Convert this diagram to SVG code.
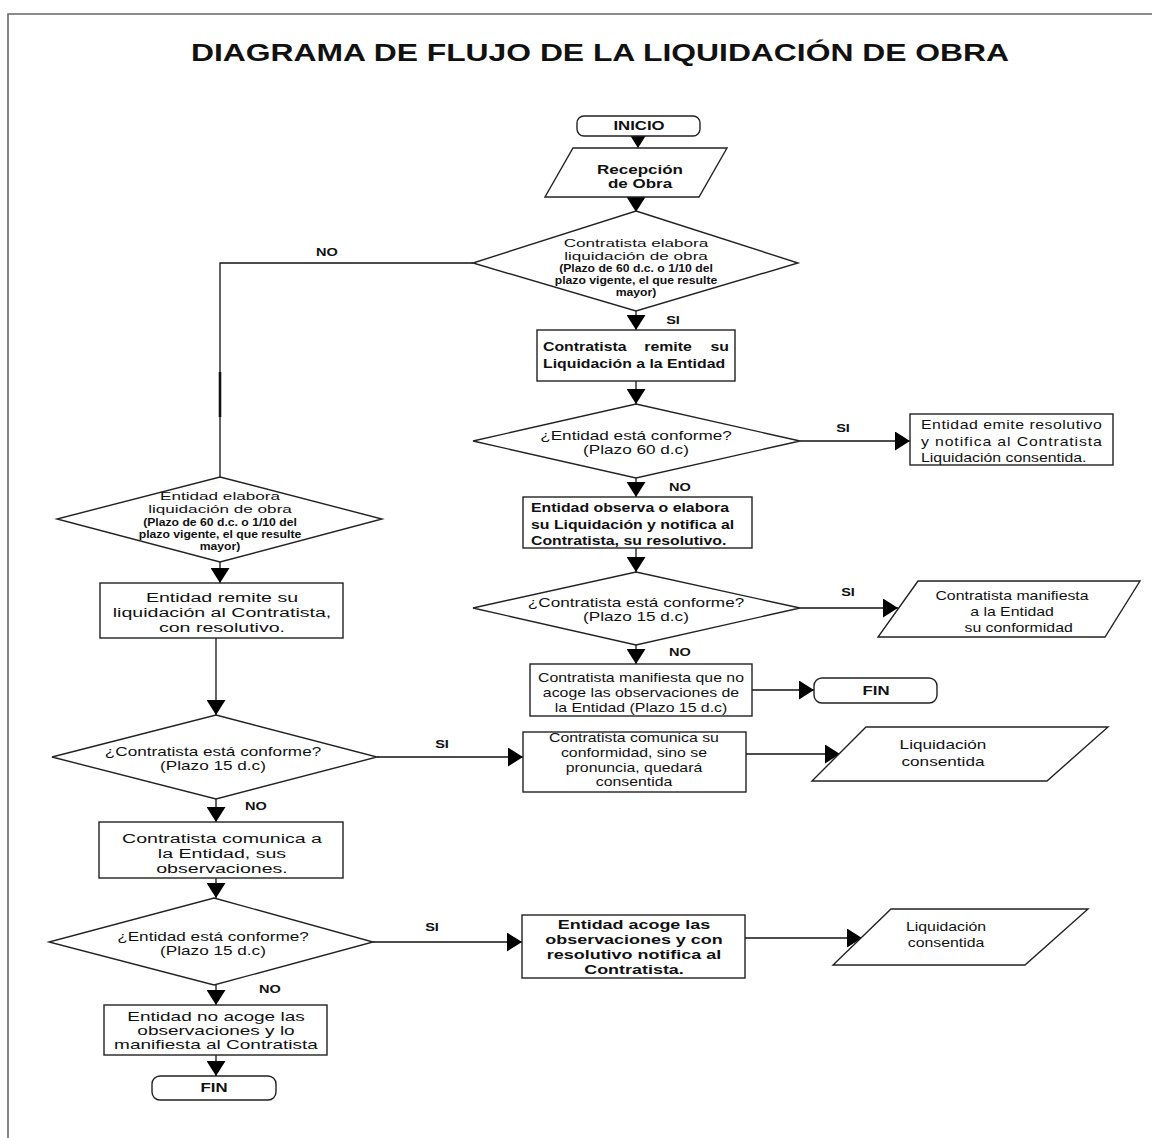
<svg xmlns="http://www.w3.org/2000/svg" width="1152" height="1138" viewBox="0 0 1152 1138">
<style>
text{font-family:"Liberation Sans",Arial,sans-serif;fill:#111}
.m{text-anchor:middle}
.st{text-anchor:start}
.b{font-weight:bold}
.f10{font-size:10px}
.f11{font-size:11px}
.f115{font-size:11.5px}
.f12{font-size:12px}
.f13{font-size:13px}
.f14{font-size:13.5px}
.sh{fill:#fff;stroke:#222;stroke-width:1.4}
.cn{fill:none;stroke:#111;stroke-width:1.3}
.fr{fill:none;stroke:#666;stroke-width:1.6}
</style>
<defs>
<marker id="ah" markerUnits="userSpaceOnUse" markerWidth="15" markerHeight="19" viewBox="0 0 15 19" refX="15" refY="9.5" orient="auto"><path d="M0,0 L15,9.5 L0,19 z" fill="#000"/></marker>
</defs>
<rect width="1152" height="1138" fill="#fff"/>
<path class="fr" d="M1152,14 H8 V1138"/>
<text id="title" class="m b" x="600" y="61" font-size="24" textLength="818" lengthAdjust="spacingAndGlyphs">DIAGRAMA DE FLUJO DE LA LIQUIDACIÓN DE OBRA</text>

<g id="connectors">
<line class="cn" x1="638" y1="136" x2="638" y2="148" marker-end="url(#ah)"/>
<line class="cn" x1="636" y1="197" x2="636" y2="212" marker-end="url(#ah)"/>
<polyline class="cn" points="473,263 220,263 220,477"/>
<line x1="220" y1="372" x2="220" y2="417" stroke="#111" stroke-width="2.6"/>
<line class="cn" x1="636" y1="311" x2="636" y2="330" marker-end="url(#ah)"/>
<line class="cn" x1="636" y1="381" x2="636" y2="404" marker-end="url(#ah)"/>
<line class="cn" x1="800" y1="441" x2="910" y2="441" marker-end="url(#ah)"/>
<line class="cn" x1="636" y1="478" x2="636" y2="497" marker-end="url(#ah)"/>
<line class="cn" x1="636" y1="548" x2="636" y2="572" marker-end="url(#ah)"/>
<line class="cn" x1="800" y1="608" x2="898" y2="608" marker-end="url(#ah)"/>
<line class="cn" x1="636" y1="645" x2="636" y2="664" marker-end="url(#ah)"/>
<line class="cn" x1="752" y1="690" x2="814" y2="690" marker-end="url(#ah)"/>
<line class="cn" x1="220" y1="562" x2="220" y2="583" marker-end="url(#ah)"/>
<line class="cn" x1="216" y1="638" x2="216" y2="715" marker-end="url(#ah)"/>
<line class="cn" x1="377" y1="757" x2="523" y2="757" marker-end="url(#ah)"/>
<line class="cn" x1="746" y1="754" x2="840" y2="754" marker-end="url(#ah)"/>
<line class="cn" x1="216" y1="799" x2="216" y2="822" marker-end="url(#ah)"/>
<line class="cn" x1="216" y1="878" x2="216" y2="898" marker-end="url(#ah)"/>
<line class="cn" x1="373" y1="942" x2="522" y2="942" marker-end="url(#ah)"/>
<line class="cn" x1="745" y1="938" x2="862" y2="938" marker-end="url(#ah)"/>
<line class="cn" x1="216" y1="985" x2="216" y2="1005" marker-end="url(#ah)"/>
<line class="cn" x1="216" y1="1055" x2="216" y2="1076" marker-end="url(#ah)"/>
<text class="m b f11" transform="matrix(1.32 0 0 1 327 0)" x="0" y="256">NO</text>
<text class="m b f11" transform="matrix(1.32 0 0 1 673 0)" x="0" y="324">SI</text>
<text class="m b f11" transform="matrix(1.32 0 0 1 843 0)" x="0" y="432">SI</text>
<text class="m b f11" transform="matrix(1.32 0 0 1 680 0)" x="0" y="491">NO</text>
<text class="m b f11" transform="matrix(1.32 0 0 1 848 0)" x="0" y="596">SI</text>
<text class="m b f11" transform="matrix(1.32 0 0 1 680 0)" x="0" y="656">NO</text>
<text class="m b f11" transform="matrix(1.32 0 0 1 442 0)" x="0" y="748">SI</text>
<text class="m b f11" transform="matrix(1.32 0 0 1 256 0)" x="0" y="810">NO</text>
<text class="m b f11" transform="matrix(1.32 0 0 1 432 0)" x="0" y="931">SI</text>
<text class="m b f11" transform="matrix(1.32 0 0 1 270 0)" x="0" y="993">NO</text>
</g>

<g id="inicio">
<rect class="sh" x="577" y="116" width="123" height="20" rx="7"/>
<text class="m b f12" transform="matrix(1.4 0 0 1 639 0)" x="0" y="130.5">INICIO</text>
</g>
<g id="recepcion">
<polygon class="sh" points="573,148 727,148 699,197 545,197"/>
<text class="m b" font-size="12.5" transform="matrix(1.36 0 0 1 640 0)"><tspan x="0" y="174">Recepción</tspan><tspan x="0" y="188">de Obra</tspan></text>
</g>
<g id="d-contratista-elabora">
<polygon class="sh" points="636,211 798,263 636,311 473,263"/>
<text class="m f115" transform="matrix(1.49 0 0 1 636 0)"><tspan x="0" y="247">Contratista elabora</tspan><tspan x="0" y="260">liquidación de obra</tspan></text>
<text class="m b f10" transform="matrix(1.22 0 0 1 636 0)"><tspan x="0" y="272.5">(Plazo de 60 d.c. o 1/10 del</tspan><tspan x="0" y="284.5">plazo vigente, el que resulte</tspan><tspan x="0" y="296.5">mayor)</tspan></text>
</g>
<g id="contratista-remite">
<rect class="sh" x="537" y="330" width="198" height="51"/>
<text class="st b f12" transform="matrix(1.32 0 0 1 543 0)" x="0" y="351">Contratista</text>
<text class="m b f12" transform="matrix(1.32 0 0 1 668 0)" x="0" y="351">remite</text>
<text class="b f12" text-anchor="end" transform="matrix(1.32 0 0 1 729 0)" x="0" y="351">su</text>
<text class="st b f12" transform="matrix(1.32 0 0 1 543 0)" x="0" y="368">Liquidación a la Entidad</text>
</g>
<g id="d-entidad-conforme-60">
<polygon class="sh" points="636,404 800,441 636,478 473,441"/>
<text class="m f13" transform="matrix(1.32 0 0 1 636 0)"><tspan x="0" y="440">¿Entidad está conforme?</tspan><tspan x="0" y="454">(Plazo 60 d.c)</tspan></text>
</g>
<g id="entidad-emite">
<rect class="sh" x="910" y="414" width="203" height="51"/>
<text class="st f12" transform="matrix(1.32 0 0 1 921 0)"><tspan x="0" y="429" textLength="137" lengthAdjust="spacing">Entidad emite resolutivo</tspan><tspan x="0" y="446" textLength="137" lengthAdjust="spacing">y notifica al Contratista</tspan><tspan x="0" y="462">Liquidación consentida.</tspan></text>
</g>
<g id="entidad-observa">
<rect class="sh" x="523" y="497" width="229" height="51"/>
<text class="st b f12" transform="matrix(1.32 0 0 1 531 0)"><tspan x="0" y="512">Entidad observa o elabora</tspan><tspan x="0" y="529">su Liquidación y notifica al</tspan><tspan x="0" y="545">Contratista, su resolutivo.</tspan></text>
</g>
<g id="d-contratista-conforme-1">
<polygon class="sh" points="636,572 800,608 636,645 473,608"/>
<text class="m f13" transform="matrix(1.32 0 0 1 636 0)"><tspan x="0" y="607">¿Contratista está conforme?</tspan><tspan x="0" y="621">(Plazo 15 d.c)</tspan></text>
</g>
<g id="contratista-manifiesta-conformidad">
<polygon class="sh" points="918,581 1140,581 1105,637 878,637"/>
<text class="m f12" transform="matrix(1.32 0 0 1 1012 0)"><tspan x="0" y="600">Contratista manifiesta</tspan><tspan x="0" y="616">a la Entidad</tspan><tspan x="5" y="632">su conformidad</tspan></text>
</g>
<g id="contratista-no-acoge">
<rect class="sh" x="530" y="664" width="222" height="52"/>
<text class="m f12" transform="matrix(1.32 0 0 1 641 0)"><tspan x="0" y="682">Contratista manifiesta que no</tspan><tspan x="0" y="697">acoge las observaciones de</tspan><tspan x="0" y="712">la Entidad (Plazo 15 d.c)</tspan></text>
</g>
<g id="fin-1">
<rect class="sh" x="814" y="678" width="123" height="25" rx="8"/>
<text class="m b f12" transform="matrix(1.4 0 0 1 876 0)" x="0" y="695">FIN</text>
</g>

<g id="d-entidad-elabora">
<polygon class="sh" points="220,477 382,519 220,562 57,519"/>
<text class="m f115" transform="matrix(1.49 0 0 1 220 0)"><tspan x="0" y="500.5">Entidad elabora</tspan><tspan x="0" y="513.5">liquidación de obra</tspan></text>
<text class="m b f10" transform="matrix(1.22 0 0 1 220 0)"><tspan x="0" y="526">(Plazo de 60 d.c. o 1/10 del</tspan><tspan x="0" y="538">plazo vigente, el que resulte</tspan><tspan x="0" y="550">mayor)</tspan></text>
</g>
<g id="entidad-remite">
<rect class="sh" x="100" y="583" width="243" height="55"/>
<text class="m f14" transform="matrix(1.45 0 0 1 222 0)"><tspan x="0" y="602">Entidad remite su</tspan><tspan x="0" y="617">liquidación al Contratista,</tspan><tspan x="0" y="632">con resolutivo.</tspan></text>
</g>
<g id="d-contratista-conforme-2">
<polygon class="sh" points="216,715 377,757 216,799 52,757"/>
<text class="m f13" transform="matrix(1.32 0 0 1 213 0)"><tspan x="0" y="756">¿Contratista está conforme?</tspan><tspan x="0" y="770">(Plazo 15 d.c)</tspan></text>
</g>
<g id="contratista-comunica-conformidad">
<rect class="sh" x="523" y="732" width="223" height="60"/>
<text class="m f12" transform="matrix(1.32 0 0 1 634 0)"><tspan x="0" y="742">Contratista comunica su</tspan><tspan x="0" y="757">conformidad, sino se</tspan><tspan x="0" y="772">pronuncia, quedará</tspan><tspan x="0" y="786">consentida</tspan></text>
</g>
<g id="liquidacion-consentida-1">
<polygon class="sh" points="866,727 1108,727 1047,781 812,781"/>
<text class="m f13" transform="matrix(1.32 0 0 1 943 0)"><tspan x="0" y="749">Liquidación</tspan><tspan x="0" y="766">consentida</tspan></text>
</g>
<g id="contratista-comunica-observaciones">
<rect class="sh" x="99" y="822" width="244" height="56"/>
<text class="m f14" transform="matrix(1.45 0 0 1 222 0)"><tspan x="0" y="843">Contratista comunica a</tspan><tspan x="0" y="858">la Entidad, sus</tspan><tspan x="0" y="873">observaciones.</tspan></text>
</g>
<g id="d-entidad-conforme-15">
<polygon class="sh" points="214,898 373,942 214,985 49,942"/>
<text class="m f13" transform="matrix(1.32 0 0 1 213 0)"><tspan x="0" y="941">¿Entidad está conforme?</tspan><tspan x="0" y="955">(Plazo 15 d.c)</tspan></text>
</g>
<g id="entidad-acoge">
<rect class="sh" x="522" y="915" width="223" height="63"/>
<text class="m b f13" transform="matrix(1.38 0 0 1 634 0)"><tspan x="0" y="929">Entidad acoge las</tspan><tspan x="0" y="944">observaciones y con</tspan><tspan x="0" y="959">resolutivo notifica al</tspan><tspan x="0" y="974">Contratista.</tspan></text>
</g>
<g id="liquidacion-consentida-2">
<polygon class="sh" points="891,909 1088,909 1025,965 833,965"/>
<text class="m f12" transform="matrix(1.32 0 0 1 946 0)"><tspan x="0" y="931">Liquidación</tspan><tspan x="0" y="947">consentida</tspan></text>
</g>
<g id="entidad-no-acoge">
<rect class="sh" x="104" y="1005" width="223" height="50"/>
<text class="m" font-size="12.5" transform="matrix(1.52 0 0 1 216 0)"><tspan x="0" y="1021">Entidad no acoge las</tspan><tspan x="0" y="1035">observaciones y lo</tspan><tspan x="0" y="1049">manifiesta al Contratista</tspan></text>
</g>
<g id="fin-2">
<rect class="sh" x="152" y="1076" width="124" height="24" rx="8"/>
<text class="m b f12" transform="matrix(1.4 0 0 1 214 0)" x="0" y="1092.5">FIN</text>
</g>
</svg>
